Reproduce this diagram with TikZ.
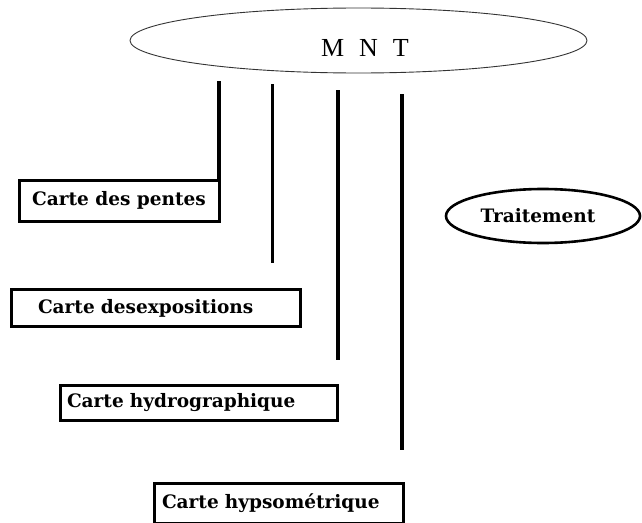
\documentclass[tikz,border=0pt]{standalone}
\usepackage{fontspec}
\setmainfont{DejaVu Serif}
\newfontfamily\mntfont{Liberation Serif}
\usepackage{tikz}
\usetikzlibrary{shapes.geometric}

\begin{document}
\begin{tikzpicture}[
  x=1pt, y=-1pt,
  every node/.style={font=\fontsize{18.5}{21}\selectfont\bfseries},
  carte/.style={draw,line width=3pt,anchor=north west,align=left,inner ysep=0pt,outer sep=0pt},
  trait/.style={line width=3.2pt},
  mntell/.style={ellipse,draw=black!80,line width=0.9pt,minimum width=457,minimum height=65},
  traitell/.style={ellipse,draw,line width=2.6pt,minimum width=194,minimum height=54}
]
  \useasboundingbox (0,0) rectangle (642,522);
  \clip (0,0) rectangle (642,522);

  % MNT
  \node[mntell] (mnt) at (358.5,40.5) {};
  \node[font=\mntfont\fontsize{26}{26}\selectfont] (mnttxt) at (365,48)
    {M\kern15pt N\kern15pt T};

  % cartes
  \node[carte,minimum width=200,minimum height=41] (pentes) at (19,180)
    {Carte des pentes};
  \node[carte,text width=236,inner xsep=26.5,minimum height=37] (expo) at (11.5,289.5)
    {Carte desexpositions};
  \node[carte,text width=264,inner xsep=6.5,minimum height=35] (hydro) at (60.5,385.5)
    {Carte hydrographique};
  \node[carte,text width=234,inner xsep=7.5,minimum height=40] (hypso) at (154.5,483.5)
    {Carte hypsométrique};

  % traitement
  \node[traitell] (trt) at (543,216) {\kern-10pt Traitement};

  % traits verticaux
  \coordinate (h1) at (219,81);
  \coordinate (h2) at (272.5,84);
  \coordinate (h3) at (338,90);
  \coordinate (h4) at (402,94);
  \coordinate (b2) at (272.5,263);
  \coordinate (b3) at (338,360);
  \coordinate (b4) at (402,450);
  \draw[trait] (h1) -- (pentes.north east);
  \draw[trait] (h2) -- (b2);
  \draw[trait] (h3) -- (b3);
  \draw[trait] (h4) -- (b4);
\end{tikzpicture}
\end{document}
